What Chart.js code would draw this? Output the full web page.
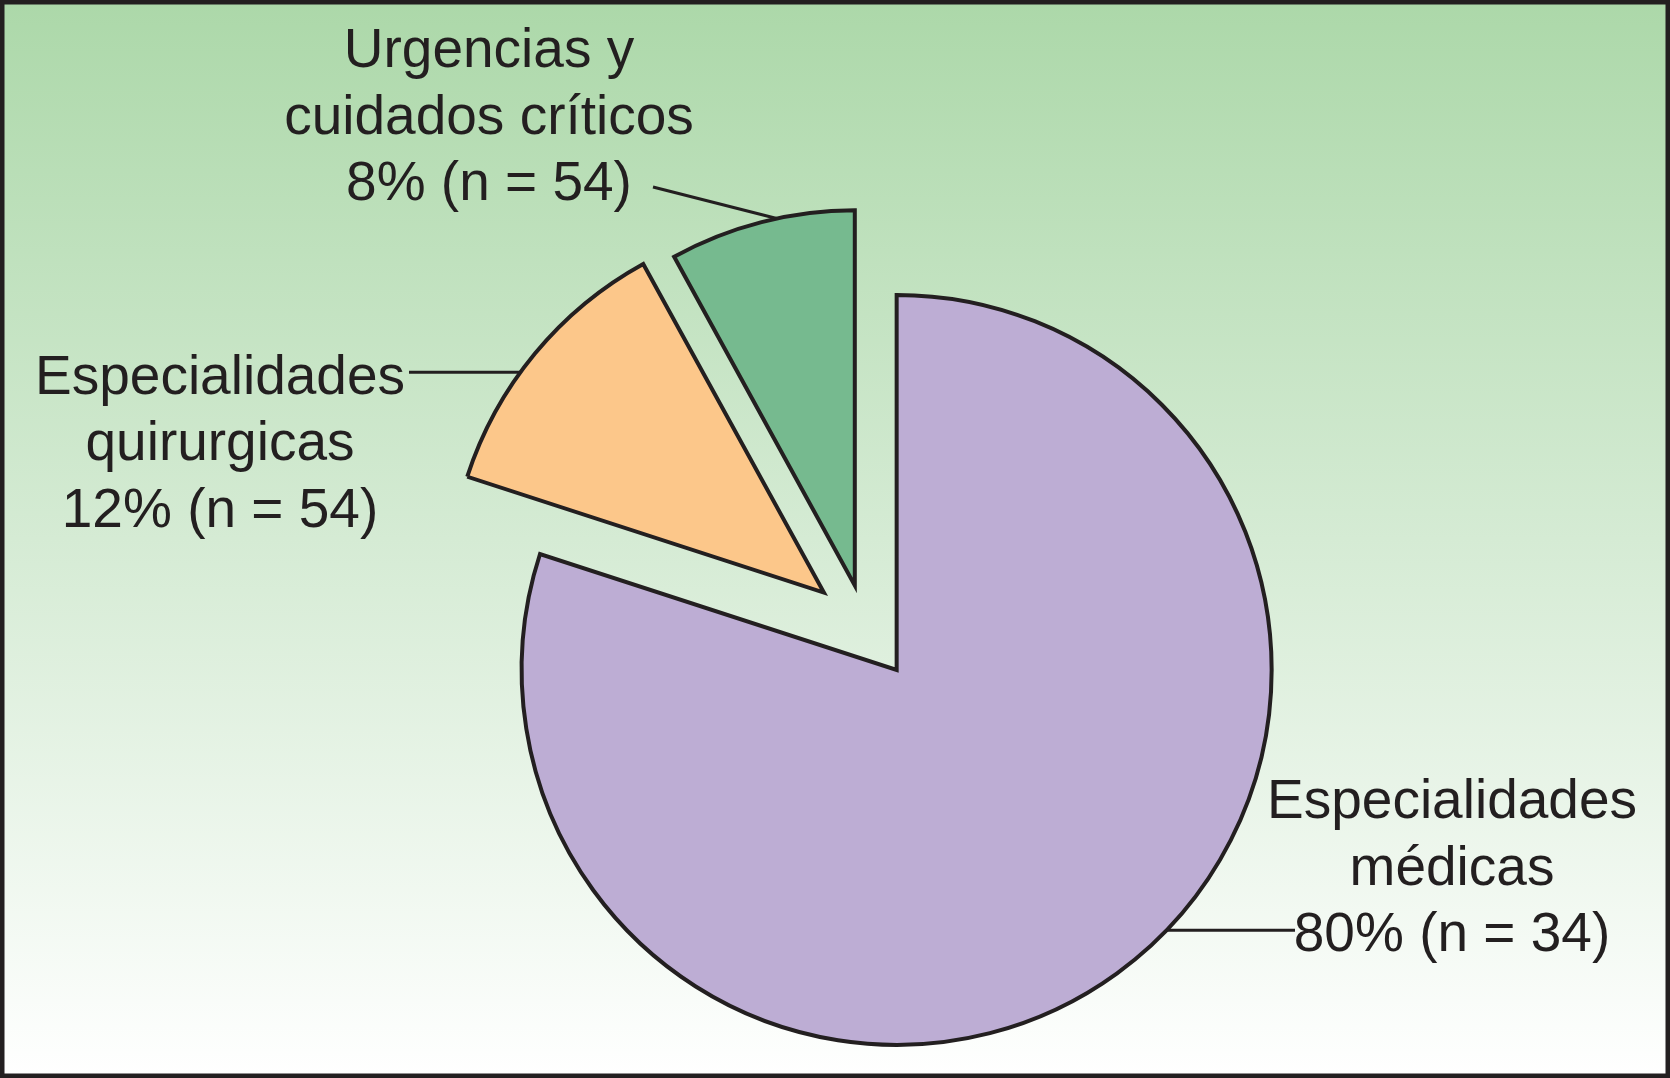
<!DOCTYPE html>
<html>
<head>
<meta charset="utf-8">
<script src="https://cdn.jsdelivr.net/npm/chart.js@4.4.1/dist/chart.umd.min.js"></script>
<style>
  html, body { margin: 0; padding: 0; background: #fff; }
  canvas { display: block; }
</style>
</head>
<body>
<canvas id="PieChartServicios" width="1670" height="1078"></canvas>
<script>
// data
const categories = ['Especialidades médicas', 'Especialidades quirurgicas', 'Urgencias y cuidados críticos'];
const nameLines = [['Especialidades', 'médicas'], ['Especialidades', 'quirurgicas'], ['Urgencias y', 'cuidados críticos']];
const percents = [80, 12, 8];
const counts = [34, 54, 54];

// styling
const sliceColors = ['#bdadd4', '#fcc78a', '#76ba8f'];
const explode = [53, 54, 43];
const inkColor = '#231f20';
const labelFont = '55px "Liberation Sans", Arial, sans-serif';
const lineHeight = 66.5;
const labelPlaces = [
    {x: 1452, y: 818, angle: 134, lineX: 1295},
    {x: 220, y: 393.5, angle: 306, lineX: 409},
    {x: 489, y: 67, angle: 348, lineX: 653, lineY: 187}
];

function sliceCenter(arc, i){
    const mid = (arc.startAngle + arc.endAngle) / 2;
    return {x: arc.x + Math.cos(mid) * explode[i], y: arc.y + Math.sin(mid) * explode[i]};
}

const backgroundPlugin = {
    id: 'panelBackground',
    beforeDraw(chart){
        const ctx = chart.ctx;
        const g = ctx.createLinearGradient(0, 0, 0, chart.height);
        g.addColorStop(0, '#acd8a9');
        g.addColorStop(0.5, '#d5ebd4');
        g.addColorStop(1, '#ffffff');
        ctx.save();
        ctx.fillStyle = g;
        ctx.fillRect(0, 0, chart.width, chart.height);
        ctx.restore();
    },
    afterDraw(chart){
        const ctx = chart.ctx;
        ctx.save();
        ctx.strokeStyle = inkColor;
        ctx.lineWidth = 4.5;
        ctx.strokeRect(2.25, 2.25, chart.width - 4.5, chart.height - 4.5);
        ctx.restore();
    }
};

// pulls every slice out along its own mid angle, keeping its radius
const explodePlugin = {
    id: 'explodeSlices',
    beforeDatasetDraw(chart, args){
        const ctx = chart.ctx;
        args.meta.data.forEach((arc, i) => {
            const mid = (arc.startAngle + arc.endAngle) / 2;
            ctx.save();
            ctx.translate(Math.cos(mid) * explode[i], Math.sin(mid) * explode[i]);
            arc.draw(ctx);
            ctx.restore();
        });
        return false;
    }
};

const labelPlugin = {
    id: 'sliceLabels',
    afterDatasetsDraw(chart){
        const ctx = chart.ctx;
        const arcs = chart.getDatasetMeta(0).data;
        ctx.save();
        ctx.strokeStyle = inkColor;
        ctx.fillStyle = inkColor;
        ctx.lineWidth = 3;
        arcs.forEach((arc, i) => {
            const c = sliceCenter(arc, i);
            const p = labelPlaces[i];
            const a = (p.angle - 90) * Math.PI / 180;
            const ax = c.x + Math.cos(a) * arc.outerRadius;
            const ay = c.y + Math.sin(a) * arc.outerRadius;
            ctx.beginPath();
            ctx.moveTo(ax, ay);
            ctx.lineTo(p.lineX, p.lineY !== undefined ? p.lineY : ay);
            ctx.stroke();

            const lines = nameLines[i].concat([percents[i] + '% (n = ' + counts[i] + ')']);
            ctx.font = labelFont;
            ctx.textAlign = 'center';
            ctx.textBaseline = 'alphabetic';
            lines.forEach((t, k) => ctx.fillText(t, p.x, p.y + k * lineHeight));
        });
        ctx.restore();
    }
};

const ctx = document.getElementById('PieChartServicios').getContext('2d');

const data = {
    labels: categories,
    datasets: [{
        data: percents,
        backgroundColor: sliceColors,
        borderColor: inkColor,
        borderWidth: 4,
        borderJoinStyle: 'miter',
        radius: 375
    }]
};

const config = {
    type: 'pie',
    data: data,
    options: {
        responsive: false,
        animation: false,
        layout: {
            padding: {left: 61, right: 0, top: 176, bottom: 0}
        },
        plugins: {
            legend: {display: false},
            tooltip: {enabled: false}
        }
    },
    plugins: [backgroundPlugin, explodePlugin, labelPlugin]
};

const myChart = new Chart(ctx, config);
</script>
</body>
</html>
